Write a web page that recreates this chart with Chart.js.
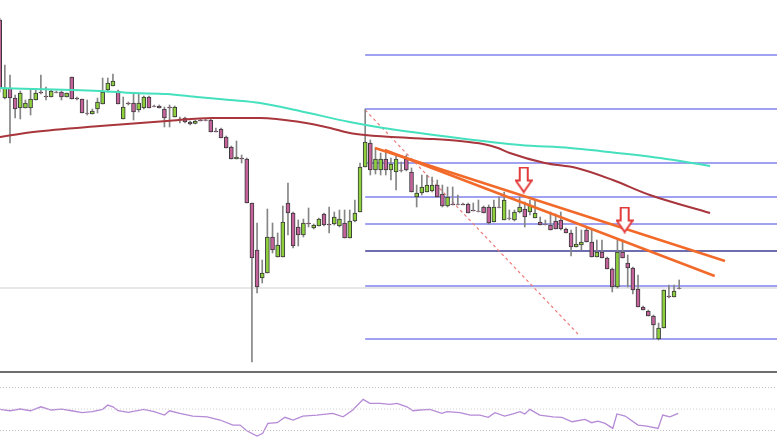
<!DOCTYPE html>
<html><head><meta charset="utf-8">
<script src="https://cdn.jsdelivr.net/npm/chart.js@4.4.1/dist/chart.umd.min.js"></script>
<style>
html,body{margin:0;padding:0;background:#fff;}
#wrap{position:relative;width:777px;height:437px;overflow:hidden;background:#fff}
#main{position:absolute;left:0;top:0}
#sep{position:absolute;left:0;top:371px;width:777px;height:2px;background:#6e6e6e}
#rsi{position:absolute;left:0;top:373px}
</style></head><body>
<div id="wrap"><canvas id="main" width="777" height="371"></canvas><div id="sep"></div><canvas id="rsi" width="777" height="64"></canvas></div>
<script>
// ---- candle data (one entry per bar, index = bar number) ----
const opens = [480,402,412,402,392,392,392,400,408,404,403,408,408,403,423,402,401,387,386,391,396,410,414,409,381,397,397,390,392,403,394,394,391,393,383,381,382,378,376.5,380,380,380,369,371,363,353,341,342,341,297,250,222,227,263,243,243,297,287,273,265,277,272,274,286,276,276,274,277,262,279,288,333,357,330,330,341,330,328,330,341,328,303,307,308,309,315,306,294,296,296,296,296,290,289,293,293,278,293,280,282,280,288,291,288,282,278,276,275,279,280,271,267,253,255,270,258,243,248,242,231,213,248,237,232,211,193,189,184,161,172,204,203,212];
const highs = [482,435,425,405,409,400,410,410,425,413,410,409,409,407,423,403,401,400,391,402,422,422,426,410,403,398,407,407,404,404,395,395,393,395,394,383,383,379,380,381,381,381,372,372,364,354,359,345,342,297,277,240,291,277,267,294,317,288,280,281,292,276,282,287,293,288,290,290,290,300,337,391,360,352,347,348,342,345,338,345,332,315,325,325,323,320,315,313,313,305,297,297,297,300,294,295,300,303,308,290,290,303,298,300,300,283,280,288,286,288,272,270,273,270,273,271,260,260,243,232,260,260,245,233,225,194,190,185,177,210,215,215,220];
const lows = [408,401,357,382,381,392,385,400,406,400,403,407,400,403,401,400,387,385,386,387,396,408,414,396,381,395,380,388,391,392,393,392,373,373,383,377,377,375,376,379,379,368,368,362,352,341,341,337,297,138,207,217,227,247,243,243,265,252,254,263,273,271,274,274,267,275,273,262,262,278,288,333,325,326,325,325,320,310,328,329,308,293,305,308,308,303,293,293,295,295,295,287,289,288,287,276,278,292,280,280,279,287,273,285,282,275,275,270,271,270,267,244,253,250,258,243,243,242,231,208,212,242,213,206,193,190,184,161,160,172,202,203,211];
const closes = [412,412,402,391,407,397,401,407,407,403,409,407.5,403,407,401,401,387,386.5,389,398,408,417,419,396,393,396,388,397,403,392,393.5,392,382,392,393,380,378,376,379,379,379.5,368,368,362,352,341,343,341,297,242,213,227,263,250,255,278,287,254,265,277,276,275,281,275,275,283,281,262,279,287,333,358,330,341,341,330,336,341,329.5,330,308,307,313,315,315,303,294,303,295,295.5,295,287,289,288.5,287,277,293,292.5,300,281.5,288,293,283,295,287,275,275.5,270,271,271,267,253,256,258,258,243,248,242,231,213,248,242,232,210,193,190,184,175,172,210,203,209,211.5];

// ---- moving averages (bar index, value) ----
const tealIdx = [0,19.5,26,32.5,38.3,44.7,50.6,58.3,68,74.5,87.5,101.1,110.8,116.6,128.3,138];
const tealVal = [412,409,407,406,403,400,397,389,378,372,363,355,352,349,342,334];
const maroonIdx = [0,6.5,19.5,32.5,41.4,50.6,58.3,64.2,68,71,79.7,84,89.4,93.9,96.8,99.1,105.9,112.1,119.1,126.3,138];
const maroonVal = [363,368,374,379,382,382,378,372,367,365,362,361,359,356,352,347,337,332,320,305,287];

// ---- fibonacci retracement levels ----
const fibLevels = [445,391,337,303,276,249,214,161];
const fibStartIdx = 71;
const lastPrice = 212;

// ---- trend lines & markers ----
const trendUpper = {from:[72.9,352], to:[140.9,239]};
const trendLower = {from:[74.8,350], to:[138.9,224]};
const fibDiag = {from:[71,390], to:[112.7,164]};
const arrowIdx = [101.8,121.4];
const arrowVal = [320,280];

// ---- RSI ----
const rsiIdx = [0,2,4,6,8,10,12,14,16,18,20,21,22,23,25,28,30,32,33,35,37.5,40.3,42.8,45.3,46.7,48,50,51.1,52.1,53.9,55.4,57,58.9,61.6,64.7,66.7,68.6,70.6,71.9,73.9,75.8,77.2,79.1,80.3,81.6,83.6,85.9,86.9,89.4,91.4,93.3,94.9,96.2,98.1,99.7,101.1,102,103,104.9,107.5,109.2,111.2,113.7,115,116.2,117.6,119.1,119.9,121.5,124,125.7,127.9,128.8,130.2,131.8];
const rsiVal = [49.7,48.4,50,48.4,52.1,49.1,50,48.4,46.6,47.5,49.7,53.7,52.1,48.4,46.9,49.7,47.5,44.4,48.4,46,43.5,42.8,39.8,35.1,35.1,29.8,24.9,27.4,36.7,37.3,42.3,39.8,43.5,44.4,46,42.8,49.1,59,55.3,55.3,54.4,55.3,52.1,48.4,49.1,49.7,46,47.5,46.6,44.4,44.4,42.3,46.6,43.5,45.4,47.5,45.4,49.7,44.4,42.8,42.3,38.2,40.4,37.3,38.8,36.7,32,45.4,43.5,35.1,34.2,32,44.4,42.8,46];
const rsiLevels = [70,50,30];

const X_MIN = 0.06, X_MAX = 151;
const GREEN = '#8dcf3d', PINK = '#c4629b';

const wickData = opens.map((o,i)=>({x:i, y:[lows[i], highs[i]]}));
const bodyData = opens.map((o,i)=>({x:i, y:[o, closes[i]]}));
const bodyColors = opens.map((o,i)=> closes[i] > o ? GREEN : PINK);

function seg(a,b){return [{x:a[0],y:a[1]},{x:b[0],y:b[1]}];}
function arrowCanvas(){
  const c=document.createElement('canvas'); c.width=18; c.height=27;
  const g=c.getContext('2d'); g.strokeStyle='#e23b3b'; g.lineWidth=2; g.fillStyle='#ffffff';
  g.beginPath(); g.moveTo(5,1); g.lineTo(13,1); g.lineTo(13,14); g.lineTo(17,14); g.lineTo(9,25.5); g.lineTo(1,14); g.lineTo(5,14); g.closePath(); g.fill(); g.stroke();
  return c;
}
const arrowImg = arrowCanvas();

const datasets = [];
fibLevels.forEach((lv,k)=>{
  datasets.push({type:'line', data:[{x:fibStartIdx,y:lv},{x:X_MAX,y:lv}], borderColor: k===5 ? '#3c3c94' : '#8282ec', borderWidth:1.6, pointRadius:0, order:20});
});
datasets.push({type:'line', data:[{x:X_MIN,y:lastPrice},{x:X_MAX,y:lastPrice}], borderColor:'#cfcfcf', borderWidth:1, pointRadius:0, order:21});
datasets.push({type:'line', data:seg(fibDiag.from,fibDiag.to), borderColor:'#ee7a7a', borderWidth:1.2, borderDash:[3,3], pointRadius:0, order:19});
datasets.push({type:'bar', data:wickData, backgroundColor:'#858585', borderWidth:0, barThickness:1, grouped:false, order:6});
datasets.push({type:'bar', data:bodyData, backgroundColor:bodyColors, borderColor:'#3a3a3a', borderWidth:1, borderSkipped:false, barThickness:4, grouped:false, order:5});
datasets.push({type:'line', data:tealIdx.map((x,i)=>({x, y:tealVal[i]})), borderColor:'#45e0bd', borderWidth:2, pointRadius:0, cubicInterpolationMode:'monotone', order:4});
datasets.push({type:'line', data:maroonIdx.map((x,i)=>({x, y:maroonVal[i]})), borderColor:'#a8363c', borderWidth:2, pointRadius:0, cubicInterpolationMode:'monotone', order:4});
datasets.push({type:'line', data:seg(trendUpper.from,trendUpper.to), borderColor:'#f26a2a', borderWidth:2.5, pointRadius:0, order:3});
datasets.push({type:'line', data:seg(trendLower.from,trendLower.to), borderColor:'#f26a2a', borderWidth:2.5, pointRadius:0, order:3});
datasets.push({type:'line', data:arrowIdx.map((x,i)=>({x, y:arrowVal[i]})), showLine:false, pointStyle:arrowImg, pointRadius:10, order:1});

new Chart(document.getElementById('main'), {
  type:'bar',
  data:{datasets},
  options:{
    responsive:false, animation:false, devicePixelRatio:1,
    layout:{padding:0, autoPadding:false},
    plugins:{legend:{display:false}, tooltip:{enabled:false}},
    scales:{
      x:{type:'linear', min:X_MIN, max:X_MAX, display:false, offset:false},
      y:{min:129, max:500, display:false}
    }
  }
});

const rsiSets = rsiLevels.map(lv=>({data:[{x:X_MIN,y:lv},{x:X_MAX,y:lv}], borderColor: lv===50 ? '#d0d0d0' : '#bdbdbd', borderWidth:1, borderDash:[1,2], pointRadius:0}));
rsiSets.push({data:rsiIdx.map((x,i)=>({x, y:rsiVal[i]})), borderColor:'#b58ad6', borderWidth:1.3, pointRadius:0, tension:0});
new Chart(document.getElementById('rsi'), {
  type:'line',
  data:{datasets:rsiSets},
  options:{
    responsive:false, animation:false, devicePixelRatio:1,
    layout:{padding:0, autoPadding:false},
    plugins:{legend:{display:false}, tooltip:{enabled:false}},
    scales:{
      x:{type:'linear', min:X_MIN, max:X_MAX, display:false},
      y:{min:24, max:83.5, display:false}
    }
  }
});
</script>
</body></html>
